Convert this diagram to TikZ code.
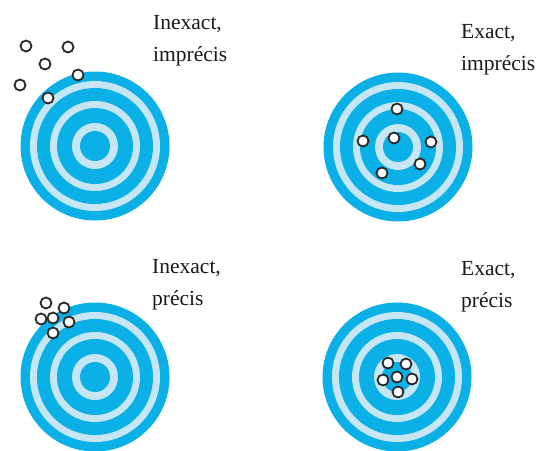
\documentclass[tikz,border=0pt]{standalone}
\usepackage{fontspec}
\setmainfont{Liberation Serif}
\definecolor{tblue}{RGB}{10,176,230}
\definecolor{tlight}{RGB}{198,230,244}
\definecolor{hitline}{RGB}{40,40,40}
\tikzset{
  target/.pic={
    \fill[tblue]  (0,0) circle (74.5pt);
    \fill[tlight] (0,0) circle (65pt);
    \fill[tblue]  (0,0) circle (58pt);
    \fill[tlight] (0,0) circle (45pt);
    \fill[tblue]  (0,0) circle (38pt);
    \fill[tlight] (0,0) circle (23pt);
    \fill[tblue]  (0,0) circle (15pt);
  },
  hit/.style={draw=hitline, fill=white, line width=1.8pt},
  lbl/.style={anchor=base west, inner sep=0pt, font=\fontsize{21.5}{26}\selectfont, text=black!90}
}
\begin{document}
\begin{tikzpicture}[x=1pt,y=-1pt]
\useasboundingbox[fill=white] (0,0) rectangle (537,450);
% targets
\pic at (95,146) {target};
\pic at (398,147) {target};
\pic at (95,377) {target};
\pic at (397,377) {target};
% hits: inexact, imprecise
\foreach \p in {(26,46),(68,47),(45,64),(20,85),(78,75),(48,98)}
  \draw[hit] \p circle (5.5pt);
% hits: exact, imprecise
\foreach \p in {(397,109),(394,138),(363,141),(431,142),(420,164),(382,173)}
  \draw[hit] \p circle (5.5pt);
% hits: inexact, precise
\foreach \p in {(46,303),(64,308),(41,319),(69,322),(53,333),(53,318)}
  \draw[hit] \p circle (5.5pt);
% hits: exact, precise
\foreach \p in {(388,363),(406,364),(383,380),(412,379),(398,392),(397,377)}
  \draw[hit] \p circle (5.5pt);
% labels
\node[lbl] (l1a) at (153,29) {Inexact,};
\node[lbl] (l1b) at (153,61) {imprécis};
\node[lbl] (l2a) at (461,38) {Exact,};
\node[lbl] (l2b) at (461,70) {imprécis};
\node[lbl] (l3a) at (152,273) {Inexact,};
\node[lbl] (l3b) at (152,305) {précis};
\node[lbl] (l4a) at (461,275) {Exact,};
\node[lbl] (l4b) at (461,307) {précis};
\end{tikzpicture}
\end{document}
